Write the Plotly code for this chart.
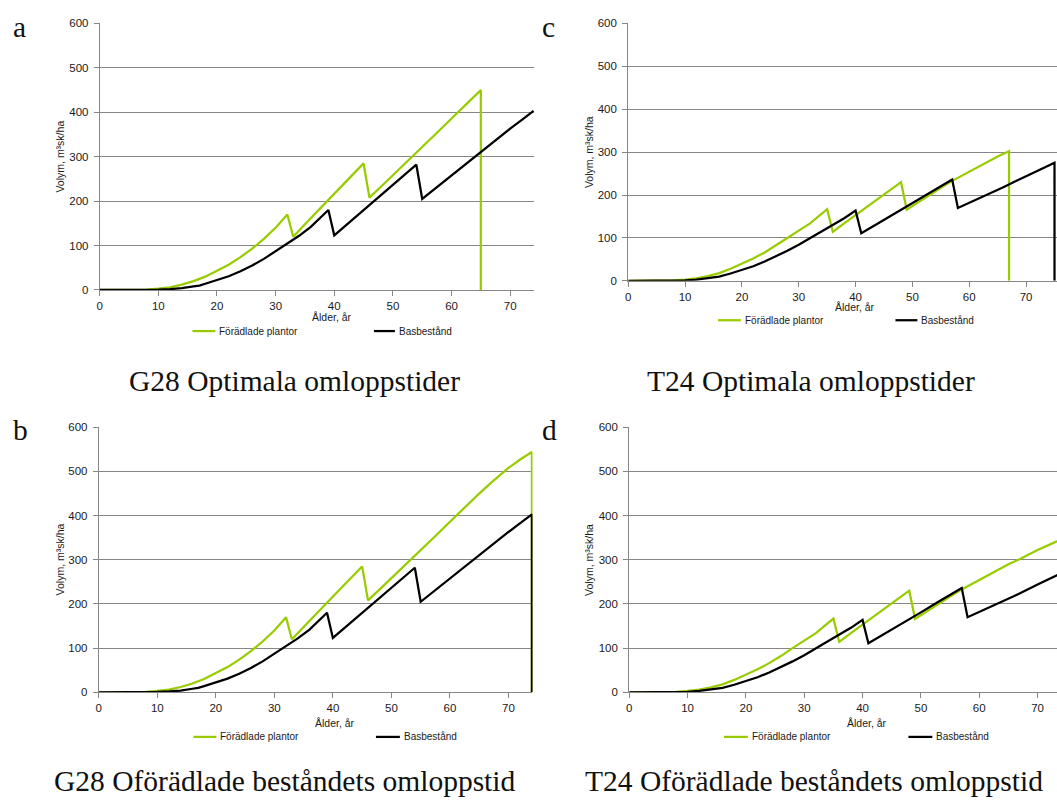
import plotly.graph_objects as go

W, H = 1057, 803

# ---- G28 (panels a and b) ----
g28_age_improved = [0, 5, 8, 10, 12, 14, 16, 18, 20, 22, 24, 26, 28, 30, 32,
                    33, 35, 38, 40, 42, 45,
                    46, 48, 50, 52, 55, 58, 60, 62, 65,
                    67, 70, 72, 74]
g28_vol_improved = [0, 0, 1, 3, 6, 12, 20, 30, 43, 57, 74, 93, 115, 140, 170,
                    120, 148, 190, 216, 244, 285,
                    208, 233, 258, 283, 322, 360, 386, 412, 450,
                    474, 508, 527, 544]

g28_age_base = [0, 5, 8, 10, 12, 14, 16, 17, 18, 20, 22, 24, 26, 28, 30, 32, 34, 36, 39,
                40, 42, 45, 48, 50, 52, 54,
                55, 58, 60, 62, 65, 68, 70, 72, 74]
g28_vol_base = [0, 0, 0, 1, 2, 4, 8, 10, 14, 22, 31, 42, 55, 70, 87, 104, 122, 142, 180,
                123, 146, 180, 214, 237, 259, 282,
                205, 237, 258, 279, 311, 343, 363, 383, 403]

# rotation ages (final felling) per scenario
g28_opt_rot_improved = 65
g28_unimp_rot = 74

# ---- T24 (panels c and d) ----
t24_age_improved = [0, 5, 8, 10, 12, 14, 16, 18, 20, 22, 24, 26, 28, 30, 32, 35,
                    36, 38, 40, 42, 45, 48,
                    49, 52, 55, 57, 60, 63, 65, 67,
                    70, 73, 74]
t24_vol_improved = [0, 0, 1, 3, 6, 11, 18, 28, 40, 52, 66, 82, 100, 117, 134, 167,
                    114, 134, 153, 172, 201, 230,
                    166, 192, 217, 233, 255, 276, 290, 302,
                    322, 340, 345]

t24_age_base = [0, 5, 8, 10, 12, 14, 16, 18, 20, 22, 24, 26, 28, 30, 32, 35, 38, 40,
                41, 44, 48, 50, 53, 57,
                58, 60, 63, 66, 70, 73, 74, 75]
t24_vol_base = [0, 0, 0, 1, 3, 6, 10, 17, 25, 34, 45, 57, 70, 84, 99, 123, 146, 164,
                111, 134, 166, 181, 205, 236,
                170, 182, 200, 218, 244, 263, 269, 275]

t24_opt_rot_improved = 67
t24_opt_rot_base = 75

panel_letters = ["a", "c", "b", "d"]
panel_titles = ["G28 Optimala omloppstider", "T24 Optimala omloppstider",
                "G28 Oförädlade beståndets omloppstid", "T24 Oförädlade beståndets omloppstid"]
series_names = ["Förädlade plantor", "Basbestånd"]
y_ticks = [0, 100, 200, 300, 400, 500, 600]
x_ticks = [0, 10, 20, 30, 40, 50, 60, 70]

GREEN = "#99cc00"
BLACK = "#000000"
GRID = "#868686"
TXT = "#1a1a1a"


def upto(ages, vols, end, drop=True):
    """Series up to a rotation age, followed by the clear-cut drop to zero."""
    xs, ys = [], []
    for a, v in zip(ages, vols):
        if a <= end:
            xs.append(a)
            ys.append(v)
    if drop:
        xs.append(end)
        ys.append(0)
    return xs, ys


def px_x(p):
    return p / W


def px_y(p):
    return 1 - p / H


# plot-area geometry per panel: (left, right, top, bottom) in pixels, x-range max
panels = {
    "a": dict(l=97, r=533, t=17.7, b=288.3, xmax=74.15),
    "c": dict(l=627, r=1057, t=17.7, b=279.0, xmax=75.44),
    "b": dict(l=96, r=531, t=427.7, b=696.7, xmax=74.1),
    "d": dict(l=628, r=1057, t=427.7, b=696.7, xmax=73.33),
}

data = {
    "a": (upto(g28_age_improved, g28_vol_improved, g28_opt_rot_improved),
          upto(g28_age_base, g28_vol_base, 74, drop=False)),
    "b": (upto(g28_age_improved, g28_vol_improved, g28_unimp_rot),
          upto(g28_age_base, g28_vol_base, g28_unimp_rot)),
    "c": (upto(t24_age_improved, t24_vol_improved, t24_opt_rot_improved),
          upto(t24_age_base, t24_vol_base, t24_opt_rot_base)),
    "d": (upto(t24_age_improved, t24_vol_improved, 74, drop=False),
          upto(t24_age_base, t24_vol_base, 74, drop=False)),
}

fig = go.Figure()
layout = {}
annotations = []
shapes = []

# text placement per panel (pixels)
extras = {
    "a": dict(letter=(16.5, 21), title=(292, 381), xlab=(330, 316), ylab=(57, 153),
              leg_y=330, leg1=(190, 213), leg2=(372, 393)),
    "c": dict(letter=(547, 21), title=(810, 381), xlab=(854, 306), ylab=(587, 148),
              leg_y=319, leg1=(717, 740), leg2=(895, 917)),
    "b": dict(letter=(18, 430), title=(283, 787), xlab=(333, 728), ylab=(57, 562),
              leg_y=742, leg1=(191, 214), leg2=(374, 398)),
    "d": dict(letter=(548, 430), title=(813, 787), xlab=(866, 728), ylab=(587, 562),
              leg_y=742, leg1=(723, 747), leg2=(908, 932)),
}

for i, key in enumerate(["a", "c", "b", "d"]):
    n = i + 1
    xa = "x" if n == 1 else f"x{n}"
    ya = "y" if n == 1 else f"y{n}"
    p = panels[key]
    (gx, gy), (bx, by) = data[key]
    fig.add_trace(go.Scatter(x=gx, y=gy, mode="lines", name=series_names[0],
                             line=dict(color=GREEN, width=2.25), xaxis=xa, yaxis=ya,
                             showlegend=False))
    fig.add_trace(go.Scatter(x=bx, y=by, mode="lines", name=series_names[1],
                             line=dict(color=BLACK, width=2.25), xaxis=xa, yaxis=ya,
                             showlegend=False))
    axis_common = dict(showline=True, linecolor=GRID, linewidth=1, ticks="outside",
                       ticklen=5, tickcolor=GRID, tickwidth=1, zeroline=False,
                       tickfont=dict(family="Liberation Sans, Arial", size=11.5, color=TXT),
                       fixedrange=True)
    layout["xaxis" if n == 1 else f"xaxis{n}"] = dict(
        axis_common, domain=[px_x(p["l"]), px_x(p["r"])], range=[0, p["xmax"]],
        tickvals=x_ticks, showgrid=False, anchor=ya)
    layout["yaxis" if n == 1 else f"yaxis{n}"] = dict(
        axis_common, domain=[px_y(p["b"]), px_y(p["t"])], range=[0, 600],
        tickvals=y_ticks, showgrid=True, gridcolor=GRID, gridwidth=1, anchor=xa,
        ticklabelstandoff=3)

    e = extras[key]
    serif = dict(family="Liberation Serif, DejaVu Serif, serif", size=29.5, color="#111111")
    annotations.append(dict(text=panel_letters[i], x=px_x(e["letter"][0]), y=px_y(e["letter"][1]),
                            xref="paper", yref="paper", showarrow=False, font=serif,
                            xanchor="center", yanchor="middle"))
    annotations.append(dict(text=panel_titles[i], x=px_x(e["title"][0]), y=px_y(e["title"][1]),
                            xref="paper", yref="paper", showarrow=False, font=serif,
                            xanchor="center", yanchor="middle"))
    sans = dict(family="Liberation Sans, Arial", size=10.5, color=TXT)
    annotations.append(dict(text="Ålder, år", x=px_x(e["xlab"][0]), y=px_y(e["xlab"][1]),
                            xref="paper", yref="paper", showarrow=False, font=sans,
                            xanchor="center", yanchor="middle"))
    annotations.append(dict(text="Volym, m³sk/ha", x=px_x(e["ylab"][0]), y=px_y(e["ylab"][1]),
                            xref="paper", yref="paper", showarrow=False, font=sans,
                            textangle=-90, xanchor="center", yanchor="middle"))
    # legend entries
    for (x0, x1), col, name in [(e["leg1"], GREEN, series_names[0]),
                                (e["leg2"], BLACK, series_names[1])]:
        shapes.append(dict(type="line", xref="paper", yref="paper",
                           x0=px_x(x0), x1=px_x(x1), y0=px_y(e["leg_y"]), y1=px_y(e["leg_y"]),
                           line=dict(color=col, width=2.25)))
        annotations.append(dict(text=name, x=px_x(x1 + 2), y=px_y(e["leg_y"]),
                                xref="paper", yref="paper", showarrow=False,
                                font=dict(family="Liberation Sans, Arial", size=10, color=TXT),
                                xanchor="left", yanchor="middle"))

fig.update_layout(
    width=W, height=H, margin=dict(l=0, r=0, t=0, b=0),
    paper_bgcolor="white", plot_bgcolor="white",
    showlegend=False, annotations=annotations, shapes=shapes, **layout)

fig.write_html("out.html")
